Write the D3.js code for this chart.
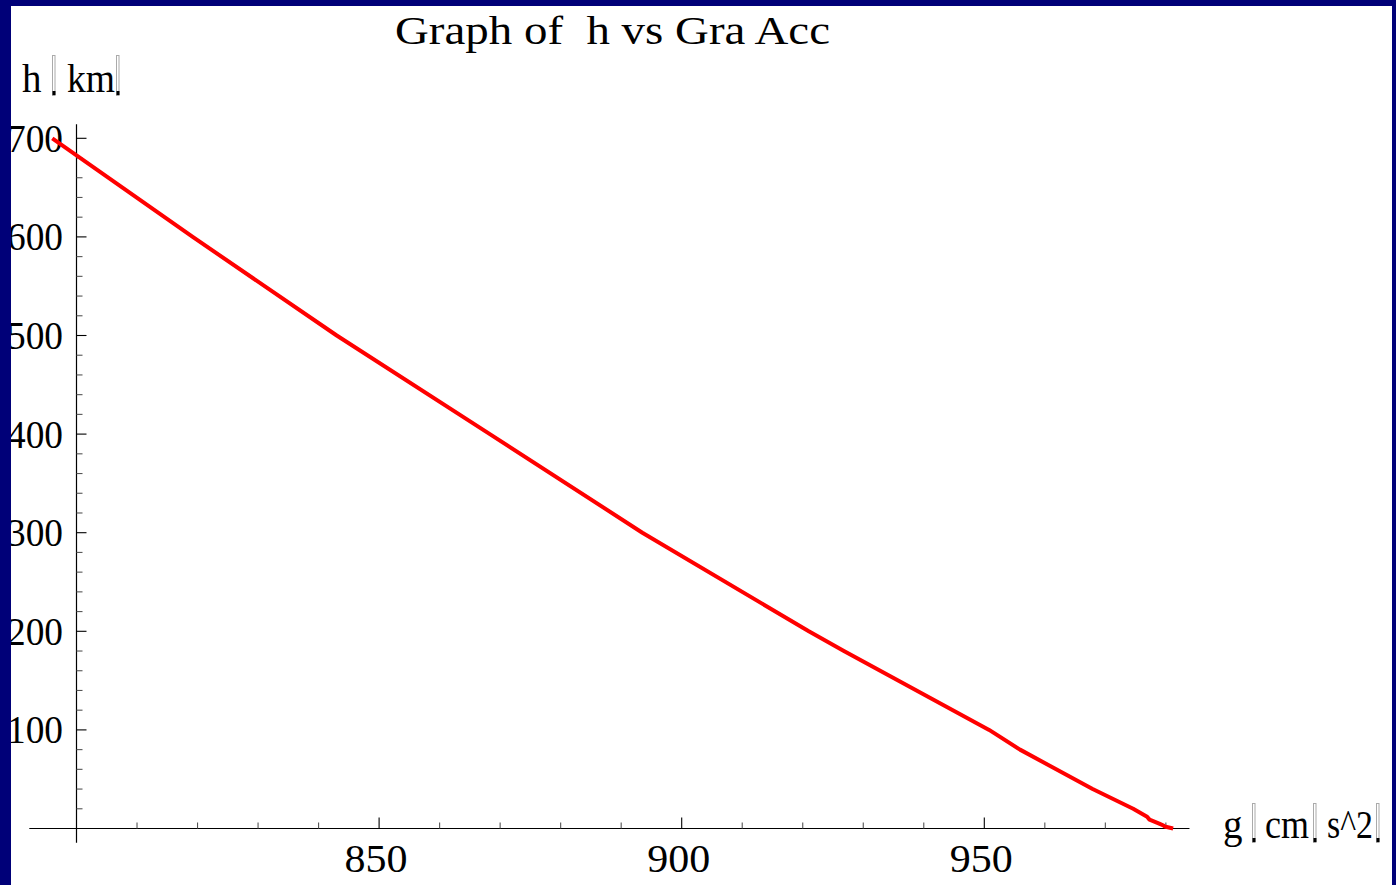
<!DOCTYPE html>
<html>
<head>
<meta charset="utf-8">
<script src="https://cdn.jsdelivr.net/npm/d3@7"></script>
<style>
  html, body { margin: 0; padding: 0; background: #ffffff; }
  svg { display: block; }
  text { font-family: "Liberation Serif", "Times New Roman", serif; fill: #000; white-space: pre; }
</style>
</head>
<body>
<svg id="chart" width="1396" height="885"></svg>
<script>
// Altitude above the surface (km) and gravitational acceleration there (cm/s^2)
const heights = [700, 600, 500, 400, 300, 200, 180, 100, 80, 40, 20, 12, 9, 5, 3, 2, 0];
const gValues = [796.0, 819.2, 843.0, 868.3, 893.5, 921.0, 926.8, 950.8, 955.9, 967.9, 974.6, 976.9, 977.3, 978.9, 979.6, 979.8, 981.2];

// Tick values
const xMajorTicks = [850, 900, 950];
const xMinorTicks = [810, 820, 830, 840, 860, 870, 880, 890, 910, 920, 930, 940, 960, 970, 980];
const yMajorTicks = [100, 200, 300, 400, 500, 600, 700];
const yMinorTicks = [20, 40, 60, 80, 120, 140, 160, 180, 220, 240, 260, 280, 320, 340, 360, 380,
                     420, 440, 460, 480, 520, 540, 560, 580, 620, 640, 660, 680];

const titleText = "Graph of  h vs Gra Acc";

const svg = d3.select("#chart");

// Scales: axes cross at g = 800, h = 0
const x = d3.scaleLinear().domain([800, 950]).range([76.5, 984.3]);
const y = d3.scaleLinear().domain([0, 700]).range([828.5, 138.3]);

const xAxisStart = 792.2, xAxisEnd = 983.9;
const yAxisStart = -14.4, yAxisEnd = 714.3;

// White canvas
svg.append("rect").attr("x", 0).attr("y", 0).attr("width", 1396).attr("height", 885).attr("fill", "#fff");

// Axis lines
svg.append("line")
  .attr("x1", x(xAxisStart)).attr("x2", x(xAxisEnd))
  .attr("y1", y(0)).attr("y2", y(0))
  .attr("stroke", "#000").attr("stroke-width", 1.2);
svg.append("line")
  .attr("x1", x(800)).attr("x2", x(800))
  .attr("y1", y(yAxisStart)).attr("y2", y(yAxisEnd))
  .attr("stroke", "#000").attr("stroke-width", 1.2);

// X ticks (pointing up into the plot)
svg.append("g").selectAll("line").data(xMajorTicks).join("line")
  .attr("x1", d => x(d)).attr("x2", d => x(d))
  .attr("y1", y(0)).attr("y2", y(0) - 11)
  .attr("stroke", "#000").attr("stroke-width", 1.1);
svg.append("g").selectAll("line").data(xMinorTicks).join("line")
  .attr("x1", d => x(d)).attr("x2", d => x(d))
  .attr("y1", y(0)).attr("y2", y(0) - 6)
  .attr("stroke", "#555").attr("stroke-width", 1.1);

// Y ticks (pointing right into the plot)
svg.append("g").selectAll("line").data(yMajorTicks).join("line")
  .attr("x1", x(800)).attr("x2", x(800) + 10)
  .attr("y1", d => y(d)).attr("y2", d => y(d))
  .attr("stroke", "#000").attr("stroke-width", 1.1);
svg.append("g").selectAll("line").data(yMinorTicks).join("line")
  .attr("x1", x(800)).attr("x2", x(800) + 6)
  .attr("y1", d => y(d)).attr("y2", d => y(d))
  .attr("stroke", "#555").attr("stroke-width", 1.1);

// Tick labels
svg.append("g").selectAll("text").data(xMajorTicks).join("text")
  .attr("x", d => x(d) - 3).attr("y", 871.5)
  .attr("text-anchor", "middle")
  .attr("font-size", 40)
  .attr("textLength", 63).attr("lengthAdjust", "spacingAndGlyphs")
  .text(d => d);
svg.append("g").selectAll("text").data(yMajorTicks).join("text")
  .attr("x", 63).attr("y", d => y(d) + 13.5)
  .attr("text-anchor", "end")
  .attr("font-size", 40)
  .attr("textLength", 56).attr("lengthAdjust", "spacingAndGlyphs")
  .text(d => d);

// Data curve
const line = d3.line().x((d, i) => x(gValues[i])).y(d => y(d));
svg.append("path")
  .datum(heights)
  .attr("d", line)
  .attr("fill", "none")
  .attr("stroke", "#ff0000")
  .attr("stroke-width", 4)
  .attr("stroke-linejoin", "round")
  .attr("stroke-linecap", "butt");

// Title
svg.append("text")
  .attr("x", 395).attr("y", 44)
  .attr("font-size", 39)
  .attr("textLength", 435).attr("lengthAdjust", "spacingAndGlyphs")
  .text(titleText);

// Placeholder box glyph drawn for unrenderable unit separators
function boxGlyph(bx, top, bottom) {
  const g = svg.append("g");
  g.append("rect")
    .attr("x", bx + 0.5).attr("y", top + 0.5)
    .attr("width", 2.5).attr("height", bottom - top - 1)
    .attr("fill", "none").attr("stroke", "#aaa").attr("stroke-width", 1);
  g.append("rect")
    .attr("x", bx + 0.5).attr("y", bottom - 5)
    .attr("width", 3).attr("height", 4)
    .attr("fill", "#000");
}

// Y axis label: h [km]
svg.append("text").attr("x", 22).attr("y", 91.7).attr("font-size", 39).text("h");
boxGlyph(52, 55, 96);
svg.append("text").attr("x", 67).attr("y", 91.7).attr("font-size", 39)
  .attr("textLength", 48).attr("lengthAdjust", "spacingAndGlyphs").text("km");
boxGlyph(116, 55, 96);

// X axis label: g [cm/s^2]
svg.append("text").attr("x", 1223).attr("y", 838).attr("font-size", 39).text("g");
boxGlyph(1252, 803, 843);
svg.append("text").attr("x", 1265).attr("y", 838).attr("font-size", 39)
  .attr("textLength", 44).attr("lengthAdjust", "spacingAndGlyphs").text("cm");
boxGlyph(1313, 803, 843);
svg.append("text").attr("x", 1327).attr("y", 838).attr("font-size", 39)
  .attr("textLength", 46).attr("lengthAdjust", "spacingAndGlyphs").text("s^2");
boxGlyph(1376, 803, 843);

// Slide frame (navy border on left, top and right)
const frame = "#000078";
svg.append("rect").attr("x", 0).attr("y", 0).attr("width", 11).attr("height", 885).attr("fill", frame);
svg.append("rect").attr("x", 0).attr("y", 0).attr("width", 1396).attr("height", 6).attr("fill", frame);
svg.append("rect").attr("x", 1392).attr("y", 0).attr("width", 4).attr("height", 885).attr("fill", frame);
</script>
</body>
</html>
